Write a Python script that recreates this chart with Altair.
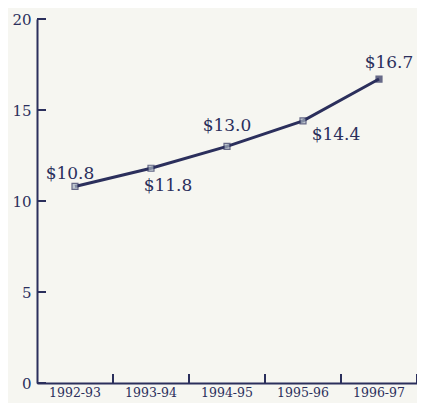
import altair as alt
import pandas as pd

years = ["1992-93", "1993-94", "1994-95", "1995-96", "1996-97"]
values = [10.8, 11.8, 13.0, 14.4, 16.7]
labels = ["$10.8", "$11.8", "$13.0", "$14.4", "$16.7"]
y_ticks = [0, 5, 10, 15, 20]

NAVY = "#2b2f5c"
FONT = "DejaVu Serif"
W, H = 380, 364

df = pd.DataFrame({"year": years, "value": values, "label": labels,
                   "last": [y == years[-1] for y in years]})
ticks_df = pd.DataFrame({"v": y_ticks})

xenc = alt.X("year:N", sort=years,
             scale=alt.Scale(paddingInner=0, paddingOuter=0),
             axis=alt.Axis(title=None, labelAngle=0, ticks=False, domainColor=NAVY,
                           domainWidth=2, labelColor=NAVY, labelFont=FONT,
                           labelFontSize=12.5, labelPadding=3))
yenc = alt.Y("value:Q", scale=alt.Scale(domain=[0, 20]),
             axis=alt.Axis(title=None, values=y_ticks, ticks=False, grid=False,
                           domainColor=NAVY, domainWidth=2, labelColor=NAVY,
                           labelFont=FONT, labelFontSize=15, labelPadding=6))

base = alt.Chart(df)
line = base.mark_line(color=NAVY, strokeWidth=3).encode(x=xenc, y=yenc)
pts = base.mark_square(size=36, stroke=NAVY, strokeWidth=1.2).encode(
    x="year:N", y="value:Q",
    fill=alt.condition("datum.last", alt.value(NAVY), alt.value("#a9b4c2")))

# label offsets (style, per label)
offsets = {"1992-93": (-5, -12), "1993-94": (17, 18), "1994-95": (0, -20),
           "1995-96": (33, 14), "1996-97": (10, -16)}
texts = []
for yr, (dx, dy) in offsets.items():
    texts.append(base.transform_filter(alt.datum.year == yr).mark_text(
        font=FONT, fontSize=17, color=NAVY, dx=dx, dy=dy, baseline="middle"
    ).encode(x="year:N", y="value:Q", text="label:N"))

yt = alt.Chart(ticks_df).mark_rule(color=NAVY, strokeWidth=2).encode(
    y=alt.Y("v:Q"), x=alt.value(0), x2=alt.value(9))
xt = base.mark_rule(color=NAVY, strokeWidth=2).encode(
    x=alt.X("year:N", sort=years, bandPosition=1), y=alt.value(H), y2=alt.value(H - 9))

chart = alt.layer(line, yt, xt, pts, *texts).properties(
    width=W, height=H,
    autosize=alt.AutoSizeParams(type="none"),
    padding={"left": 29, "top": 11, "right": 0, "bottom": 20},
    background="#f6f6f1",
).configure_view(stroke=None)

chart.save("out.html", embed_options={"renderer": "svg", "actions": False})
